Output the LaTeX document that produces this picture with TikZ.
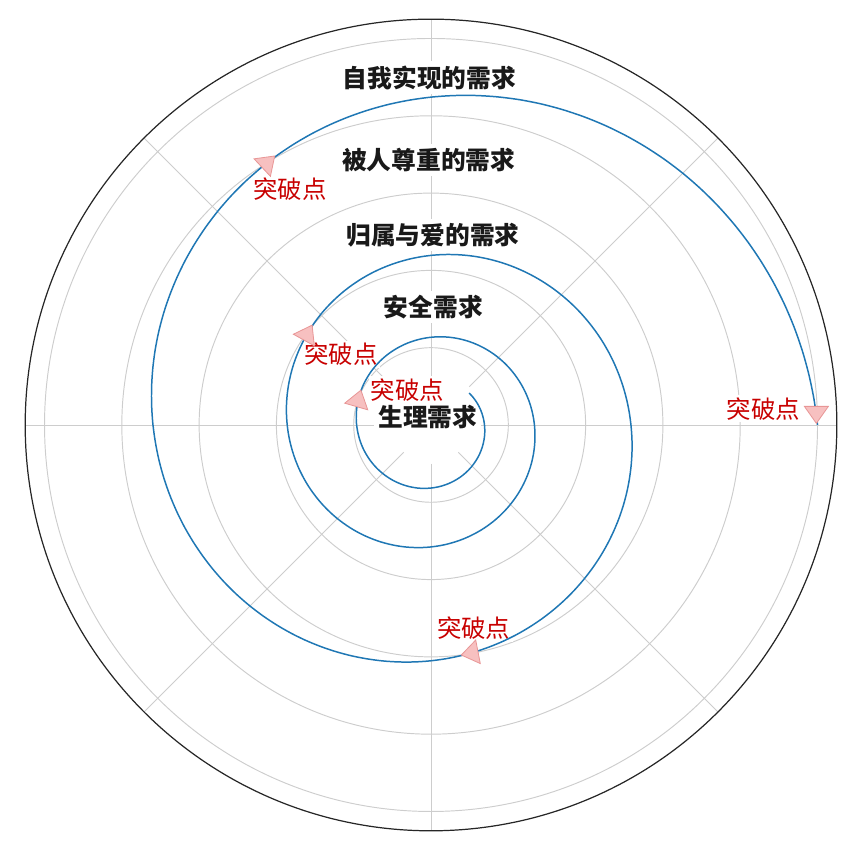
\documentclass[tikz,border=0pt]{standalone}
\usepackage{fontspec}
\usepackage{xcolor}
\usepackage{tikz}
\usetikzlibrary{arrows.meta, positioning, calc}
\newfontfamily\cjk{Noto Sans CJK SC}
\definecolor{gridgray}{RGB}{205,205,205}
\definecolor{spiralblue}{RGB}{31,119,180}
\definecolor{brkred}{RGB}{200,0,0}
\definecolor{markfill}{RGB}{247,192,192}
\definecolor{markedge}{RGB}{232,150,150}

\begin{document}
\begin{tikzpicture}[
  gridline/.style={gridgray, line width=0.35pt},
  needlabel/.style={fill=white, inner sep=1.5pt, text=black!90, font=\cjk\bfseries\fontsize{9.1pt}{11pt}\selectfont},
  brklabel/.style={fill=white, inner sep=0.8pt, text=brkred, font=\cjk\fontsize{9pt}{11pt}\selectfont},
  brkmark/.pic={\filldraw[fill=markfill, draw=markedge, line width=0.3pt] (0.11,0) -- (-0.11,0.155) -- (-0.11,-0.155) -- cycle;}
]
  \useasboundingbox (-5.576,-5.524) rectangle (5.627,5.498);

  % Grid
  \foreach \r in {1,...,5}
    \draw[gridline] (0,0) circle (\r);
  \foreach \a/\s in {0/0.5, 45/0.7, 90/0.5, 135/0.5, 180/0.5, 225/0.5, 270/0.5, 315/0.5}
    \draw[gridline] (\a:\s) -- (\a:5.25);
  \draw[black!85, line width=0.45pt] (0,0) circle (5.25);

  % Needs
  \node[needlabel] (self)     at (-0.02,4.495) {自我实现的需求};
  \node[needlabel] (esteem)   at (-0.03,3.428) {被人尊重的需求};
  \node[needlabel] (love)     at (0.026,2.458) {归属与爱的需求};
  \node[needlabel] (safety)   at (0.03,1.530)  {安全需求};
  \node[needlabel] (physio)   at (-0.04,0.097) {生理需求};

  % Breakthrough labels
  \node[brklabel] (brk1) at (-0.304,0.453) {突破点};
  \node[brklabel] (brk2) at (-1.167,0.916) {突破点};
  \node[brklabel] (brk3) at (0.552,-2.633) {突破点};
  \node[brklabel] (brk4) at (-1.824,3.047) {突破点};
  \node[brklabel] (brk5) at (4.301,0.207)  {突破点};

  % Spiral
  \draw[spiralblue, line width=0.55pt] plot[domain=0:1120, samples=300, smooth] (\x:{5*exp(-0.0018326*\x)});

  % Breakthrough points
  \foreach \t/\d in {1.5/-90, 121.7/43, 279.6/191, 503.1/61, 879.8/74}
    \pic[rotate=\d] at (\t:{5*exp(-0.0018326*\t)}) {brkmark};
\end{tikzpicture}
\end{document}
